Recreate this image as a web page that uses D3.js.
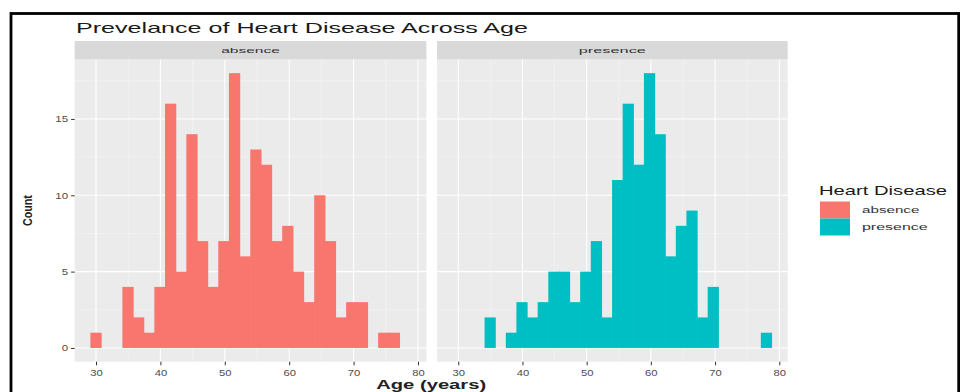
<!DOCTYPE html>
<html>
<head>
<meta charset="utf-8">
<script src="https://cdn.jsdelivr.net/npm/d3@7/dist/d3.min.js"></script>
<style>
  html, body { margin: 0; padding: 0; background: #fff; }
  svg { display: block; font-family: "Liberation Sans", Arial, Helvetica, sans-serif; }
</style>
</head>
<body>
<svg id="chart" width="960" height="392"></svg>
<script>
// Histogram bins (centre age of each bin) and bin width, in years
const binCenters = [30.00, 31.66, 33.31, 34.97, 36.62, 38.28, 39.93, 41.59, 43.24, 44.90,
                    46.55, 48.21, 49.86, 51.52, 53.17, 54.83, 56.48, 58.14, 59.79, 61.45,
                    63.10, 64.76, 66.41, 68.07, 69.72, 71.38, 73.03, 74.69, 76.34, 78.00];
const binWidth = 1.655;

// Counts per bin for each facet
const absenceCounts  = [1, 0, 0, 4, 2, 1, 4, 16, 5, 14, 7, 4, 7, 18, 6, 13, 12, 7, 8, 5,
                        3, 10, 7, 2, 3, 3, 0, 1, 1, 0];
const presenceCounts = [0, 0, 0, 2, 0, 1, 3, 2, 3, 5, 5, 3, 5, 7, 2, 11, 16, 12, 18, 14,
                        6, 8, 9, 2, 4, 0, 0, 0, 0, 1];

const facetNames = ["absence", "presence"];
const facetColors = ["#F8766D", "#00BFC4"];
const xTicks = [30, 40, 50, 60, 70, 80];
const xMinor = [35, 45, 55, 65, 75];
const yTicks = [0, 5, 10, 15];
const yMinor = [2.5, 7.5, 12.5, 17.5];

const svg = d3.select("#chart");

// outer frame
svg.append("rect")
  .attr("x", 11).attr("y", 13.5).attr("width", 947.7).attr("height", 392)
  .attr("fill", "none").attr("stroke", "#000").attr("stroke-width", 2.8);

// helper: text fitted to a given width
function fitText(sel, len) {
  return sel.attr("textLength", len).attr("lengthAdjust", "spacingAndGlyphs");
}

// shared scales (ggplot-style 5% expansion)
const lo = binCenters[0] - binWidth / 2, hi = binCenters[binCenters.length - 1] + binWidth / 2;
const xPad = (hi - lo) * 0.05;
const xDomain = [lo - xPad, hi + xPad];
const yMax = d3.max(absenceCounts.concat(presenceCounts));
const yDomain = [-yMax * 0.05, yMax * 1.05];

const panelTop = 59.4, panelBottom = 361.7;
const panels = [
  { name: facetNames[0], color: facetColors[0], counts: absenceCounts,  x0: 74.7, x1: 426.4 },
  { name: facetNames[1], color: facetColors[1], counts: presenceCounts, x0: 437.0, x1: 787.7 }
];

const y = d3.scaleLinear().domain(yDomain).range([panelBottom, panelTop]);

panels.forEach((p, i) => {
  const x = d3.scaleLinear().domain(xDomain).range([p.x0, p.x1]);
  const g = svg.append("g");

  // panel background
  g.append("rect").attr("x", p.x0).attr("y", panelTop)
    .attr("width", p.x1 - p.x0).attr("height", panelBottom - panelTop)
    .attr("fill", "#EBEBEB");

  // minor grid
  g.selectAll(".ymin").data(yMinor).enter().append("line")
    .attr("x1", p.x0).attr("x2", p.x1).attr("y1", d => y(d)).attr("y2", d => y(d))
    .attr("stroke", "#F5F5F5").attr("stroke-width", 0.6);
  g.selectAll(".xmin").data(xMinor).enter().append("line")
    .attr("y1", panelTop).attr("y2", panelBottom).attr("x1", d => x(d)).attr("x2", d => x(d))
    .attr("stroke", "#F5F5F5").attr("stroke-width", 0.6);
  // major grid
  g.selectAll(".ymaj").data(yTicks).enter().append("line")
    .attr("x1", p.x0).attr("x2", p.x1).attr("y1", d => y(d)).attr("y2", d => y(d))
    .attr("stroke", "#fff").attr("stroke-width", 1.1);
  g.selectAll(".xmaj").data(xTicks).enter().append("line")
    .attr("y1", panelTop).attr("y2", panelBottom).attr("x1", d => x(d)).attr("x2", d => x(d))
    .attr("stroke", "#fff").attr("stroke-width", 1.1);

  // bars (slightly overlapped so adjacent bins join without seams)
  g.selectAll(".bar").data(p.counts.map((c, k) => ({ c, k })).filter(d => d.c > 0))
    .enter().append("rect")
    .attr("x", d => x(binCenters[d.k] - binWidth / 2) - 0.3)
    .attr("width", d => x(binCenters[d.k] + binWidth / 2) - x(binCenters[d.k] - binWidth / 2) + 0.6)
    .attr("y", d => y(d.c))
    .attr("height", d => y(0) - y(d.c))
    .attr("fill", p.color);

  // strip
  g.append("rect").attr("x", p.x0).attr("y", 41).attr("width", p.x1 - p.x0).attr("height", panelTop - 41)
    .attr("fill", "#D9D9D9");
  fitText(g.append("text").attr("x", (p.x0 + p.x1) / 2).attr("y", 53)
    .attr("text-anchor", "middle").attr("font-size", 8).attr("fill", "#333").text(p.name),
    p.name.length * 8.4);

  // x axis
  const xAxis = g.append("g").attr("transform", `translate(0,${panelBottom})`)
    .call(d3.axisBottom(x).tickValues(xTicks).tickSize(3.6).tickPadding(4.5).tickFormat(d3.format("d")));
  xAxis.select(".domain").remove();
  xAxis.selectAll(".tick line").attr("stroke", "#333").attr("stroke-width", 1);
  xAxis.selectAll(".tick text").attr("fill", "#4D4D4D").attr("font-size", 9)
    .attr("font-family", "Liberation Sans, Arial, sans-serif")
    .attr("textLength", 12.5).attr("lengthAdjust", "spacingAndGlyphs");

  // y axis (left panel only)
  if (i === 0) {
    const yAxis = g.append("g").attr("transform", `translate(${p.x0},0)`)
      .call(d3.axisLeft(y).tickValues(yTicks).tickSize(3.6).tickPadding(3));
    yAxis.select(".domain").remove();
    yAxis.selectAll(".tick line").attr("stroke", "#333").attr("stroke-width", 1);
    yAxis.selectAll(".tick text").attr("fill", "#4D4D4D").attr("font-size", 9)
      .attr("font-family", "Liberation Sans, Arial, sans-serif")
      .each(function (d) {
        d3.select(this).attr("textLength", String(d).length * 6.4).attr("lengthAdjust", "spacingAndGlyphs");
      });
  }
});

// title
fitText(svg.append("text").attr("x", 76).attr("y", 32.7)
  .attr("font-size", 14.5).attr("fill", "#1A1A1A").text("Prevelance of Heart Disease Across Age"), 452);

// axis titles
fitText(svg.append("text").attr("x", (panels[0].x0 + panels[1].x1) / 2).attr("y", 388.5)
  .attr("text-anchor", "middle").attr("font-size", 12).attr("font-weight", "bold")
  .attr("fill", "#222").text("Age (years)"), 110);
fitText(svg.append("text")
  .attr("transform", `translate(32,${(panelTop + panelBottom) / 2}) rotate(-90)`)
  .attr("text-anchor", "middle").attr("font-size", 12).attr("font-weight", "bold")
  .attr("fill", "#222").text("Count"), 31);

// legend
const legend = svg.append("g");
fitText(legend.append("text").attr("x", 819).attr("y", 195.3)
  .attr("font-size", 13.5).attr("fill", "#1A1A1A").text("Heart Disease"), 128);
const keyY = [201.5, 218.5];
facetNames.forEach((name, i) => {
  legend.append("rect").attr("x", 820).attr("y", keyY[i]).attr("width", 30).attr("height", 17)
    .attr("fill", facetColors[i]);
  fitText(legend.append("text").attr("x", 862).attr("y", keyY[i] + 11.5)
    .attr("font-size", 8.5).attr("fill", "#333").text(name), name.length * 8.2);
});
</script>
</body>
</html>
